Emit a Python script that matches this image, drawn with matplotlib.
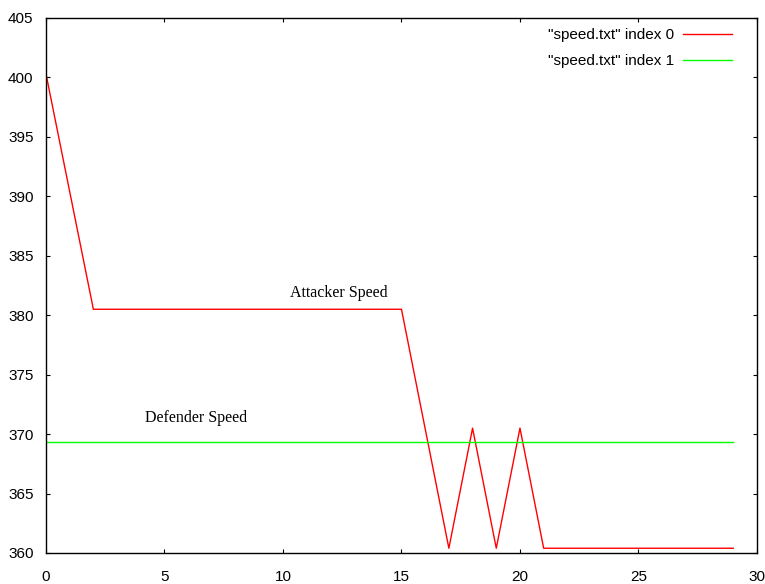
import matplotlib
matplotlib.use("Agg")
import matplotlib.pyplot as plt

# attacker speed vertices (index 0) and constant defender speed (index 1)
att_x = [0, 2, 15, 17, 18, 19, 20, 21, 29]
att_y = [400.3, 380.5, 380.5, 360.4, 370.5, 360.4, 370.5, 360.4, 360.4]
def_x = [0, 29]
def_y = [369.3, 369.3]

x_ticks = [0, 5, 10, 15, 20, 25, 30]
y_ticks = [360, 365, 370, 375, 380, 385, 390, 395, 400, 405]

plt.rcParams["font.family"] = ["Liberation Sans", "DejaVu Sans"]

fig = plt.figure(figsize=(7.65, 5.84), dpi=100)
ax = fig.add_axes([0.0601, 0.0531, 0.9294, 0.9161])

ax.plot(att_x, att_y, color="#ff0000", lw=1.0, label='"speed.txt" index 0')
ax.plot(def_x, def_y, color="#00ff00", lw=1.0, label='"speed.txt" index 1')

ax.set_xlim(0, 30)
ax.set_ylim(360, 405)
ax.set_xticks(x_ticks)
ax.set_yticks(y_ticks)
ax.tick_params(direction="in", length=3, width=0.8, top=True, right=True,
               labelsize=11, colors="black")
ax.tick_params(axis="x", pad=12)
ax.tick_params(axis="y", pad=9)
for sp in ax.spines.values():
    sp.set_linewidth(1.0)

ax.text(10.29, 381.5, "Attacker Speed", family="Liberation Serif", fontsize=11.5)
ax.text(4.18, 371.0, "Defender Speed", family="Liberation Serif", fontsize=11.5)

ax.legend(loc="upper right", frameon=False, markerfirst=False, fontsize=11,
          handlelength=3.2, handletextpad=0.6, labelspacing=0.8,
          bbox_to_anchor=(0.979, 1.0), borderaxespad=0.25)

fig.savefig("out.png", dpi=100)
